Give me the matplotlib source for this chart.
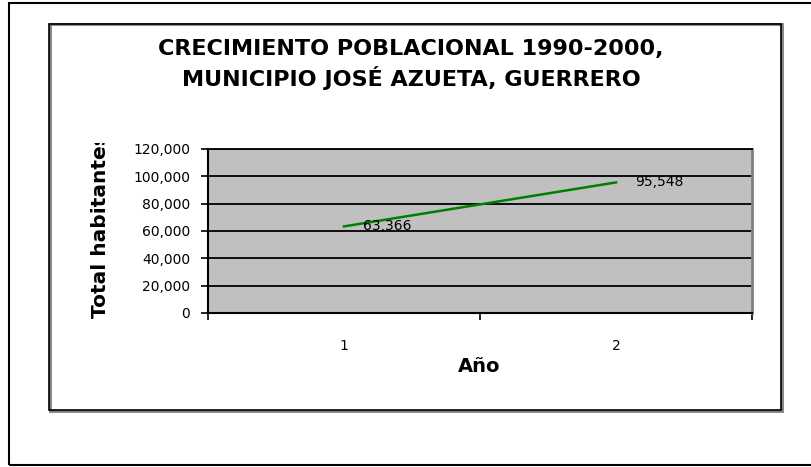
import numpy as np
import matplotlib
matplotlib.use("Agg")
import matplotlib.pyplot as plt
from matplotlib.patches import Rectangle
from matplotlib.transforms import Bbox
from matplotlib.ticker import FuncFormatter

# data
categories = [1, 2]
habitantes = [63366, 95548]
y_ticks = [0, 20000, 40000, 60000, 80000, 100000, 120000]

W, H = 812, 467
fig = plt.figure(figsize=(W / 100, H / 100), dpi=100)
fig.patch.set_facecolor("white")


def fx(px):
    return px / W


def fy(py):
    return 1 - py / H


# outer frame and chart box
fig.patches.append(Rectangle((fx(9), fy(465)), fx(830) - fx(9), fy(3) - fy(465),
                             transform=fig.transFigure, fill=False,
                             edgecolor="black", linewidth=1.5))
fig.patches.append(Rectangle((fx(50), fy(411)), fx(782) - fx(50), fy(24) - fy(411),
                             transform=fig.transFigure, fill=False,
                             edgecolor="#808080", linewidth=2))
fig.patches.append(Rectangle((fx(49), fy(410)), fx(781) - fx(49), fy(24) - fy(410),
                             transform=fig.transFigure, fill=False,
                             edgecolor="black", linewidth=1.2))

ax = fig.add_axes([fx(208), fy(313), fx(752) - fx(208), fy(149) - fy(313)])
ax.set_facecolor("#C0C0C0")

ax.plot(categories, habitantes, color="#008000", linewidth=1.8, zorder=3)
for xv, yv in zip(categories, habitantes):
    ax.annotate(f"{yv:,}", (xv, yv), xytext=(14, 0), textcoords="offset points",
                ha="left", va="center", fontsize=10, family="DejaVu Sans",
                color="black", zorder=4)

ax.set_xlim(0.5, 2.5)
ax.set_ylim(0, 120000)
ax.set_yticks(y_ticks)
ax.yaxis.set_major_formatter(FuncFormatter(lambda v, p: f"{int(v):,}"))
ax.yaxis.grid(True, color="black", linewidth=1.3)
ax.set_axisbelow(True)

ax.set_xticks(categories)
ax.set_xticks([0.5, 1.5, 2.5], minor=True)
ax.tick_params(axis="x", which="major", length=0, pad=19, labelsize=10)
ax.tick_params(axis="x", which="minor", length=5, width=1.2, direction="out")
ax.tick_params(axis="y", length=5, width=1.2, direction="out", pad=8, labelsize=10)
for lab in ax.get_xticklabels() + ax.get_yticklabels():
    lab.set_family("DejaVu Sans")

for s in ["left", "bottom"]:
    ax.spines[s].set_color("black")
    ax.spines[s].set_linewidth(1.5)
ax.spines["right"].set_color("#808080")
ax.spines["right"].set_linewidth(2)
ax.spines["top"].set_color("black")
ax.spines["top"].set_linewidth(1.3)

# titles
fig.text(fx(411), fy(65), "CRECIMIENTO POBLACIONAL 1990-2000,\nMUNICIPIO JOSÉ AZUETA, GUERRERO",
         ha="center", va="center", fontsize=16, fontweight="bold",
         family="DejaVu Sans", linespacing=1.35)
fig.text(fx(479), fy(367), "Año", ha="center", va="center", fontsize=14,
         fontweight="bold", family="DejaVu Sans")
ylab = fig.text(fx(101), fy(318), "Total habitantes", rotation=90, ha="center",
                va="bottom", fontsize=14.5, fontweight="bold", family="DejaVu Sans")
ylab.set_clip_box(Bbox([[0, 0], [W, H - 143]]))
ylab.set_clip_on(True)

fig.savefig("out.png", dpi=100)
